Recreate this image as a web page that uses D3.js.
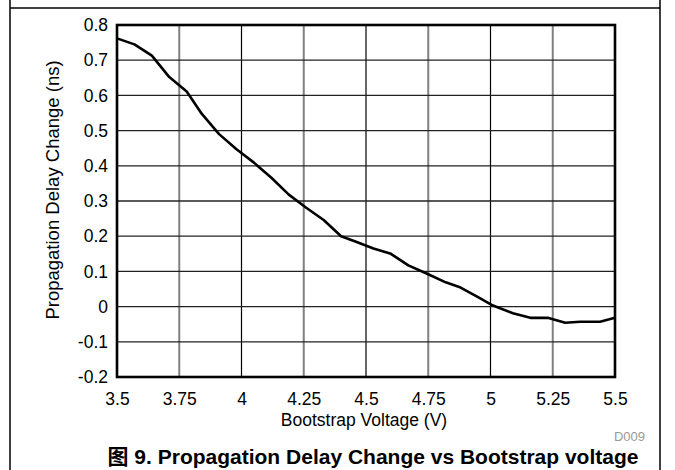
<!DOCTYPE html>
<html>
<head>
<meta charset="utf-8">
<script src="https://cdn.jsdelivr.net/npm/d3@7"></script>
<style>
  html, body { margin: 0; padding: 0; background: #fff; }
  svg { display: block; font-family: "Liberation Sans", Arial, sans-serif; }
</style>
</head>
<body>
<svg id="chart" width="675" height="470"></svg>
<script>
// ---- data ----
const voltage = [3.5, 3.57, 3.64, 3.71, 3.78, 3.84, 3.91, 3.98, 4.05, 4.12,
                 4.19, 4.26, 4.33, 4.40, 4.46, 4.53, 4.60, 4.67, 4.75, 4.82,
                 4.88, 4.95, 5.01, 5.09, 5.16, 5.23, 5.30, 5.36, 5.44, 5.50];
const delayChange = [0.762, 0.745, 0.713, 0.652, 0.611, 0.548, 0.490, 0.447, 0.409, 0.366,
                     0.318, 0.281, 0.246, 0.200, 0.184, 0.165, 0.150, 0.117, 0.092, 0.069,
                     0.054, 0.027, 0.003, -0.019, -0.032, -0.032, -0.046, -0.043, -0.043, -0.032];
const xTicks = [3.5, 3.75, 4, 4.25, 4.5, 4.75, 5, 5.25, 5.5];
const xTickLabels = ["3.5", "3.75", "4", "4.25", "4.5", "4.75", "5", "5.25", "5.5"];
const yTicks = [-0.2, -0.1, 0, 0.1, 0.2, 0.3, 0.4, 0.5, 0.6, 0.7, 0.8];
const yTickLabels = ["-0.2", "-0.1", "0", "0.1", "0.2", "0.3", "0.4", "0.5", "0.6", "0.7", "0.8"];
const xTitle = "Bootstrap Voltage (V)";
const yTitle = "Propagation Delay Change (ns)";
const caption = "图 9. Propagation Delay Change vs Bootstrap voltage";
const figId = "D009";

// ---- layout ----
const svg = d3.select("#chart");
const L = 117, R = 615, T = 25, B = 377;
const x = d3.scaleLinear().domain([3.5, 5.5]).range([L, R]);
const y = d3.scaleLinear().domain([-0.2, 0.8]).range([B, T]);

// page frame
svg.append("line").attr("x1", 10).attr("x2", 10).attr("y1", 0).attr("y2", 470)
  .attr("stroke", "#000").attr("stroke-width", 1.5);
svg.append("line").attr("x1", 660).attr("x2", 660).attr("y1", 0).attr("y2", 470)
  .attr("stroke", "#000").attr("stroke-width", 1.5);
svg.append("line").attr("x1", 10).attr("x2", 660).attr("y1", 8).attr("y2", 8)
  .attr("stroke", "#000").attr("stroke-width", 1.5);

// gridlines
const grid = svg.append("g");
grid.selectAll(".vg").data(xTicks.slice(1, -1)).enter().append("line")
  .attr("x1", d => x(d)).attr("x2", d => x(d)).attr("y1", T).attr("y2", B)
  .attr("stroke", d => (Math.round(d * 100) % 50 === 0) ? "#000" : "#808080")
  .attr("stroke-width", d => (Math.round(d * 100) % 50 === 0) ? 1.2 : 2);
grid.selectAll(".hg").data(yTicks.slice(1, -1)).enter().append("line")
  .attr("x1", L).attr("x2", R).attr("y1", d => y(d)).attr("y2", d => y(d))
  .attr("stroke", "#222").attr("stroke-width", 1.3);

// plot border
svg.append("rect").attr("x", L).attr("y", T).attr("width", R - L).attr("height", B - T)
  .attr("fill", "none").attr("stroke", "#000").attr("stroke-width", 2.6);

// data line
const line = d3.line().x((d, i) => x(voltage[i])).y(d => y(d));
svg.append("path").datum(delayChange)
  .attr("d", line).attr("fill", "none").attr("stroke", "#000")
  .attr("stroke-width", 2.6).attr("stroke-linejoin", "round");

// axes
const xAxis = d3.axisBottom(x).tickValues(xTicks)
  .tickFormat((d, i) => xTickLabels[i]).tickSize(0).tickPadding(16);
const gx = svg.append("g").attr("transform", `translate(0,${B})`).call(xAxis);
gx.select(".domain").remove();
gx.selectAll("text").attr("font-size", 17.5).attr("fill", "#000")
  .attr("font-family", "'Liberation Sans', Arial, sans-serif");

const yAxis = d3.axisLeft(y).tickValues(yTicks)
  .tickFormat((d, i) => yTickLabels[i]).tickSize(0).tickPadding(9);
const gy = svg.append("g").attr("transform", `translate(${L},0)`).call(yAxis);
gy.select(".domain").remove();
gy.selectAll("text").attr("font-size", 17.5).attr("fill", "#000")
  .attr("font-family", "'Liberation Sans', Arial, sans-serif");

// titles
svg.append("text").attr("x", 364).attr("y", 426).attr("text-anchor", "middle")
  .attr("font-size", 17.5).attr("fill", "#000").text(xTitle);
svg.append("text").attr("transform", "translate(59,190) rotate(-90)")
  .attr("text-anchor", "middle").attr("font-size", 18.5).attr("fill", "#000").text(yTitle);
svg.append("text").attr("x", 645).attr("y", 441).attr("text-anchor", "end")
  .attr("font-size", 13).attr("fill", "#999").text(figId);
svg.append("text").attr("x", 373).attr("y", 464).attr("text-anchor", "middle")
  .attr("font-size", 21).attr("font-weight", "bold").attr("fill", "#000")
  .attr("font-family", "'Liberation Sans', 'Noto Sans CJK SC', Arial, sans-serif")
  .text(caption);
</script>
</body>
</html>
